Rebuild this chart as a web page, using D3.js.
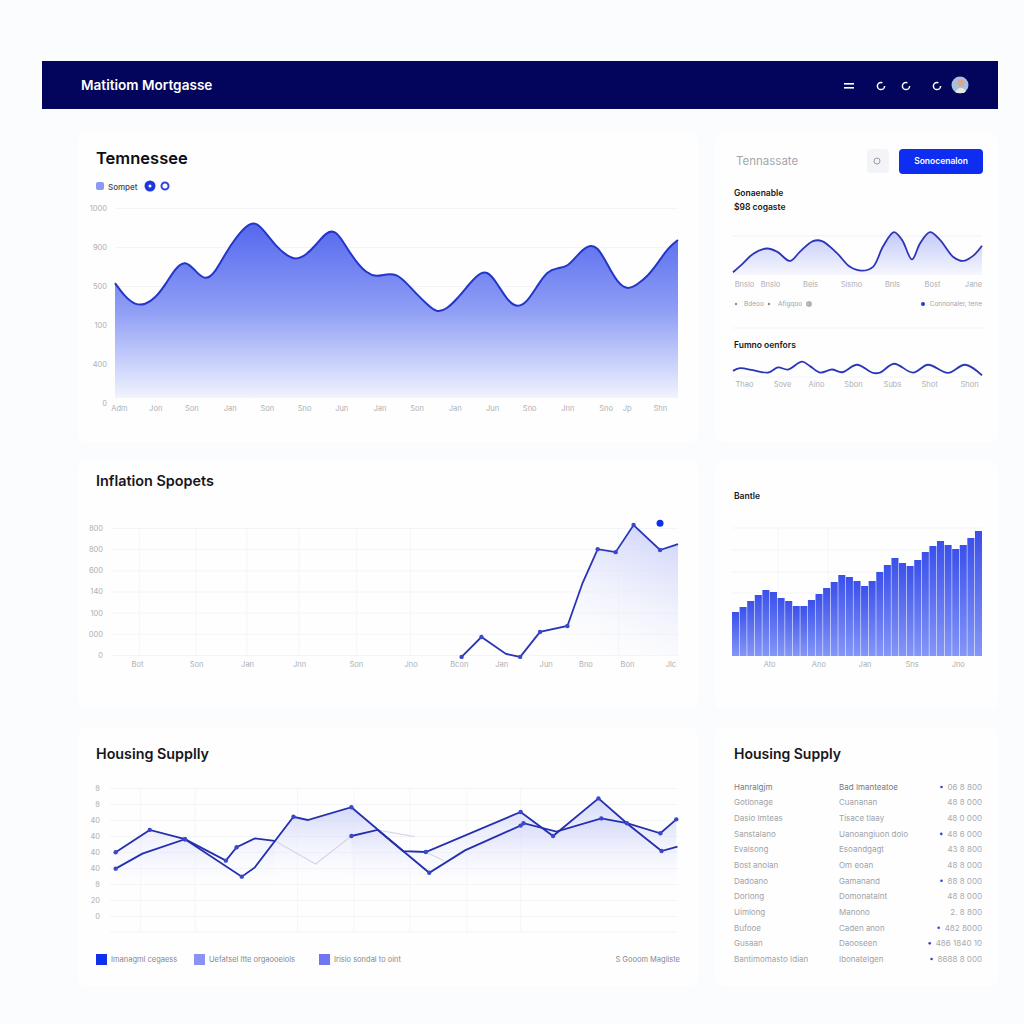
<!DOCTYPE html>
<html>
<head>
<meta charset="utf-8">
<script src="https://cdn.jsdelivr.net/npm/d3@7"></script>
<style>
  html, body { margin: 0; padding: 0; background: #fbfcfd; }
  svg { display: block; font-family: Inter, "Liberation Sans", sans-serif; }
</style>
</head>
<body>
<svg id="page" width="1024" height="1024"></svg>
<script>
// main area chart
const trendValues = [615,544,503,503,538,605,692,733,677,626,672,769,846,908,933,872,805,759,733,759,810,877,887,800,723,667,646,662,662,615,559,508,462,482,533,595,656,682,615,528,487,518,600,677,692,697,759,810,805,708,615,579,610,651,718,795,836];
const trendYTicks = [0,200,400,600,800,1000];
const trendYLabels = ["0","400","100","500","900","1000"];
const trendXTicks = [0.4,4,7.6,11.4,15.1,18.8,22.5,26.3,30,33.8,37.5,41.2,45,48.8,50.9,54.2];
const trendXLabels = ["Adm","Jon","Son","Jan","Son","Sno","Jun","Jan","Son","Jan","Jun","Sno","Jnn","Sno","Jp","Shn"];

// side sparklines
const spark1X = [0,10,20,34,44,57,67,80,89,104,117,129,140,150,161,169,179,187,197,207,220,230,240,249];
const spark1Y = [7,30,54,68,60,36,60,87,87,56,21,11,21,73,110,90,40,81,110,90,47,36,49,75];
const spark1Ticks = [11,37,77,118,159,199,240];
const spark1Labels = ["Bnslo","Bnslo","Beis","Sismo","Bnls","Bost","Jane"];

const spark2X = [0,7,20,35,45,55,69,77,87,99,109,124,140,147,161,180,195,215,232,249];
const spark2Y = [36,52,40,26,56,44,90,64,26,44,28,72,24,26,78,26,72,24,72,10];
const spark2Ticks = [11,49,83,120,159,196,236];
const spark2Labels = ["Thao","Sove","Aino","Sbon","Subs","Shot","Shon"];

// inflation line
const inflationX = [37.1,39.2,41.8,43.3,45.4,48.3,49.9,51.5,53.4,55.3,58.1,60];
const inflationY = [-9,85,5,-9,109,137,340,500,486,614,496,524];
const inflationMarked = [1,1,0,1,1,1,0,1,1,1,1,0];
const inflationExtra = [58.1,623];
const inflationYTicks = [0,100,200,300,400,500,600];
const inflationYLabels = ["0","000","100","140","600","800","800"];
const inflationXTicks = [2.75,9,14.4,19.9,25.9,31.7,36.8,41.3,46,50.2,54.6,59.2];
const inflationXLabels = ["Bot","Son","Jan","Jnn","Son","Jno","Bcon","Jan","Jun","Bno","Bon","Jlc"];
const inflationVGrid = [3,9,14.4,19.9,26,31.7,53.7];

// bars
const barValues = [44,49,55,61,66,64,58,55,50,50,56,62,68,74,81,79,75,70,75,84,91,98,93,90,96,104,110,115,111,107,111,118,125];
const barTicks = [4.9,11.4,17.5,23.7,29.8];
const barLabels = ["Ato","Ano","Jan","Sns","Jno"];

// housing supply lines
const supplyAX = [1,7,13.2,20.4,22.3,25.5,29,36.2,42.5,47.1,51.6,55.6,72.3,78,86,91.3,97.1,99.9];
const supplyAY = [39.8,53.8,48,34.6,43,48.5,47,null,50,53.8,40.6,40,65,50,73.5,57,40.6,43.3];
const supplyAMarked = [1,1,1,1,1,0,0,0,1,0,0,1,1,1,1,0,1,0];
const supplyBX = [1,5.7,13.2,23.2,25.5,32.3,34.8,42.5,51.6,56.2,62.5,72.3,72.8,78.6,86.5,91,96.9,99.7];
const supplyBY = [29.6,39,48,24.6,30.4,62,60,68,40.6,27,41,56.5,58,52.7,61,58,51.7,60.4];
const supplyBMarked = [1,0,1,1,0,1,0,1,0,1,0,1,1,0,1,1,1,1];
const supplyFaintX = [29,36.2,42.5,45,47.1,53.6,54.5,55.6,58.8];
const supplyFaintY = [47,32.5,50,null,53.8,49.6,null,40,34.6];
const supplyYTicks = [0,10,20,30,40,50,60,70,80];
const supplyYLabels = ["0","20","8","40","40","40","40","8","8"];
const supplyVGrid = [5.4,15,33,43,52.8,62.8,72.3];
const supplyLegend = ["Imanagml cegaess","Uefatsel ltte orgaooeiols","Irisio sondal to oint"];
const supplyLegendColors = ["#1030f0","#8c92f2","#7076f2"];

// table
const tableCol1 = ["Hanralgjm","Gotlonage","Dasio Imteas","Sanstalano","Evalsong","Bost anolan","Dadoano","Dorlong","Uimlong","Bufooe","Gusaan","Bantimomasto Idian"];
const tableCol2 = ["Bad Imanteatoe","Cuananan","Tisace tlaay","Uanoangiuon dolo","Esoandgagt","Om eoan","Gamanand","Domonatalnt","Manono","Caden anon","Daooseen","Ibonatelgen"];
const tableCol3 = ["06 8 800","48 8 000","48 0 000","48 6 000","43 8 800","48 8 000","88 8 000","48 8 000","2. 8 800","482 8000","486 1840 10","8688 8 000"];
const tableFlag = [1,0,0,1,0,0,1,0,0,1,1,1];

const svg = d3.select("#page");
const defs = svg.append("defs");

function gradient(id, stops, x1, y1, x2, y2) {
  const g = defs.append("linearGradient").attr("id", id)
    .attr("x1", x1 || 0).attr("y1", y1 || 0).attr("x2", x2 || 0).attr("y2", y2 === undefined ? 1 : y2);
  stops.forEach(s => g.append("stop").attr("offset", s[0]).attr("stop-color", s[1]).attr("stop-opacity", s[2] === undefined ? 1 : s[2]));
}
gradient("trendFill", [[0,"#5468ee"],[0.5,"#8f9ef5"],[1,"#f1f3fe"]]);
gradient("sparkFill", [[0,"#c2c9f8"],[1,"#f6f7fe"]]);
gradient("inflationFill", [[0,"#c9cff8"],[1,"#ffffff",0]], 1, 0, 0.35, 1);
gradient("barFill", [[0,"#3a50ea"],[1,"#8496f7"]]);
gradient("supplyFill", [[0,"#c6ccf8",0.75],[1,"#ffffff",0]]);

// background + cards
svg.append("rect").attr("width", 1024).attr("height", 1024).attr("fill", "#fbfcfd");
svg.append("rect").attr("x", 42).attr("y", 61).attr("width", 956).attr("height", 48).attr("fill", "#03045c");

const cards = [[78,133,620,309],[715,133,283,309],[78,461,620,248],[715,461,283,248],[78,728,620,258],[715,728,283,258]];
svg.selectAll(".card").data(cards).enter().append("rect")
  .attr("class", "card")
  .attr("x", d => d[0]).attr("y", d => d[1]).attr("width", d => d[2]).attr("height", d => d[3])
  .attr("rx", 7).attr("fill", "#fefefe");

function label(x, y, str, size, color, weight, anchor) {
  return svg.append("text").attr("x", x).attr("y", y).attr("dy", "0.35em")
    .attr("font-size", size).attr("fill", color).attr("font-weight", weight || 400)
    .attr("text-anchor", anchor || "start").text(str);
}

function yAxis(scale, ticks, labels, x0, x1, pad, noGridAt) {
  const g = svg.append("g").attr("transform", `translate(${x0},0)`)
    .call(d3.axisLeft(scale).tickValues(ticks).tickFormat((d, i) => labels[i]).tickSize(-(x1 - x0)).tickPadding(pad));
  g.select(".domain").remove();
  g.selectAll("line").attr("stroke", "#f3f4f6").attr("stroke-width", 1);
  g.selectAll(".tick").filter(d => d === noGridAt).select("line").remove();
  g.selectAll("text").attr("fill", "#adafb4").attr("font-size", 7.5).attr("font-family", "Inter, sans-serif");
  return g;
}

function xLabels(scale, ticks, labels, y) {
  const g = svg.append("g").attr("transform", `translate(0,${y})`)
    .call(d3.axisBottom(scale).tickValues(ticks).tickFormat((d, i) => labels[i]).tickSize(0).tickPadding(0));
  g.select(".domain").remove();
  g.selectAll("text").attr("fill", "#adafb4").attr("font-size", 7.5).attr("font-family", "Inter, sans-serif");
  return g;
}

function vGrid(scale, ticks, y0, y1) {
  svg.append("g").selectAll("line").data(ticks).enter().append("line")
    .attr("x1", d => scale(d)).attr("x2", d => scale(d)).attr("y1", y0).attr("y2", y1)
    .attr("stroke", "#f5f6f8");
}

// header
label(81, 85, "Matitiom Mortgasse", 13.6, "#ffffff", 600);
svg.append("rect").attr("x", 844).attr("y", 83).attr("width", 10).attr("height", 1.6).attr("fill", "#fff");
svg.append("rect").attr("x", 844).attr("y", 87).attr("width", 10).attr("height", 1.6).attr("fill", "#fff");
svg.selectAll(".hicon").data([881,906,937]).enter().append("circle").attr("class", "hicon")
  .attr("cx", d => d).attr("cy", 86).attr("r", 3.6).attr("fill", "none").attr("stroke", "#fff")
  .attr("stroke-width", 1.5).attr("stroke-dasharray", "18 5");
svg.append("circle").attr("cx", 960).attr("cy", 85).attr("r", 8.5).attr("fill", "#a9bfdc");
svg.append("circle").attr("cx", 961).attr("cy", 83).attr("r", 3.4).attr("fill", "#d8a890");
svg.append("path").attr("d", "M955 92 Q961 84 966 91 L964 93 L957 93 Z").attr("fill", "#e8e4e4");

// Tennessee main chart
label(96, 158, "Temnessee", 16.5, "#0c0c12", 600);
svg.append("rect").attr("x", 96).attr("y", 182).attr("width", 8).attr("height", 8).attr("rx", 2).attr("fill", "#8a9af5");
label(108, 187, "Sompet", 8, "#444650", 500);
svg.append("circle").attr("cx", 150).attr("cy", 186).attr("r", 5.5).attr("fill", "#1c36e0");
svg.append("circle").attr("cx", 150).attr("cy", 186).attr("r", 1.5).attr("fill", "#fff");
svg.append("circle").attr("cx", 165).attr("cy", 186).attr("r", 3.5).attr("fill", "#fff").attr("stroke", "#3146d8").attr("stroke-width", 2);

const trendX = d3.scaleLinear().domain([0, trendValues.length - 1]).range([115, 678]);
const trendY = d3.scaleLinear().domain([0, 1000]).range([403, 208]);
yAxis(trendY, trendYTicks, trendYLabels, 115, 678, 8, 0);
svg.append("path").datum(trendValues)
  .attr("fill", "url(#trendFill)")
  .attr("d", d3.area().x((d, i) => trendX(i)).y0(398).y1(d => trendY(d)).curve(d3.curveBasis));
svg.append("path").datum(trendValues)
  .attr("fill", "none").attr("stroke", "#2336c9").attr("stroke-width", 2)
  .attr("d", d3.line().x((d, i) => trendX(i)).y(d => trendY(d)).curve(d3.curveBasis));
xLabels(trendX, trendXTicks, trendXLabels, 406);

// right column top card
label(736, 161, "Tennassate", 11.5, "#a5a7ac");
svg.append("rect").attr("x", 867).attr("y", 149).attr("width", 22).attr("height", 24).attr("rx", 4).attr("fill", "#f3f4f7");
svg.append("circle").attr("cx", 877).attr("cy", 161).attr("r", 3).attr("fill", "none").attr("stroke", "#9a9ca3");
svg.append("rect").attr("x", 899).attr("y", 149).attr("width", 84).attr("height", 25).attr("rx", 4).attr("fill", "#0f2df0");
label(941, 161, "Sonocenalon", 8.5, "#ffffff", 600, "middle");
label(734, 193, "Gonaenable", 8.5, "#18181e", 600);
label(734, 207, "$98 cogaste", 8.5, "#18181e", 600);

function spark(xs, ys, yScale, baseY, fill) {
  const x = d3.scaleLinear().domain([0, 249]).range([733, 982]);
  const pts = xs.map((d, i) => [d, ys[i]]);
  if (fill) {
    svg.append("path").datum(pts).attr("fill", "url(#sparkFill)")
      .attr("d", d3.area().x(d => x(d[0])).y0(baseY).y1(d => yScale(d[1])).curve(d3.curveCatmullRom));
  }
  svg.append("path").datum(pts).attr("fill", "none").attr("stroke", "#2b35b8").attr("stroke-width", 1.8)
    .attr("d", d3.line().x(d => x(d[0])).y(d => yScale(d[1])).curve(d3.curveCatmullRom));
  return x;
}

const spark1Scale = d3.scaleLinear().domain([0, 100]).range([275, 236]);
svg.append("line").attr("x1", 733).attr("x2", 982).attr("y1", spark1Scale(100)).attr("y2", spark1Scale(100)).attr("stroke", "#f0f1f4");
const spark1x = spark(spark1X, spark1Y, spark1Scale, 275, true);
xLabels(spark1x, spark1Ticks, spark1Labels, 282);

svg.append("circle").attr("cx", 736).attr("cy", 304).attr("r", 1.2).attr("fill", "#8a8c94");
label(744, 304, "Bdeoo", 6.5, "#a3a5aa");
svg.append("circle").attr("cx", 769).attr("cy", 304).attr("r", 1.2).attr("fill", "#8a8c94");
label(778, 304, "Afigqoo", 6.5, "#a3a5aa");
svg.append("circle").attr("cx", 809).attr("cy", 304).attr("r", 3).attr("fill", "#b4b5b9");
svg.append("circle").attr("cx", 923).attr("cy", 304).attr("r", 2).attr("fill", "#2438d0");
label(982, 304, "Connonaler, tene", 6.5, "#a3a5aa", 400, "end");

svg.append("line").attr("x1", 733).attr("x2", 982).attr("y1", 328).attr("y2", 328).attr("stroke", "#f1f2f5");
label(734, 345, "Fumno oenfors", 8.5, "#18181e", 600);

const spark2Scale = d3.scaleLinear().domain([0, 100]).range([377, 360]);
svg.append("line").attr("x1", 733).attr("x2", 982).attr("y1", 377).attr("y2", 377).attr("stroke", "#f3f4f7");
const spark2x = spark(spark2X, spark2Y, spark2Scale, 377, false);
xLabels(spark2x, spark2Ticks, spark2Labels, 382);

// Inflation chart
label(96, 481, "Inflation Spopets", 14.4, "#16161c", 600);
const infX = d3.scaleLinear().domain([0, 60]).range([111, 678]);
const infY = d3.scaleLinear().domain([0, 600]).range([655, 528]);
vGrid(infX, inflationVGrid, 528, 655);
yAxis(infY, inflationYTicks, inflationYLabels, 111, 678, 8);
const infPts = inflationX.map((d, i) => [d, inflationY[i], inflationMarked[i]]);
svg.append("path").datum(infPts.slice(0))
  .attr("fill", "url(#inflationFill)")
  .attr("d", d3.area().x(d => infX(d[0])).y0(infY(0)).y1(d => infY(d[1])));
svg.append("path").datum(infPts).attr("fill", "none").attr("stroke", "#2a35b5").attr("stroke-width", 1.8)
  .attr("d", d3.line().x(d => infX(d[0])).y(d => infY(d[1])));
svg.append("g").selectAll("circle").data(infPts.filter(d => d[2])).enter().append("circle")
  .attr("cx", d => infX(d[0])).attr("cy", d => infY(d[1])).attr("r", 2.2).attr("fill", "#3b48cc");
svg.append("circle").attr("cx", infX(inflationExtra[0])).attr("cy", infY(inflationExtra[1])).attr("r", 3.5).attr("fill", "#1030ee");
xLabels(infX, inflationXTicks, inflationXLabels, 662);

// Bars
label(734, 496, "Bantle", 8.5, "#18181e", 600);
const barX = d3.scaleBand().domain(d3.range(barValues.length)).range([732, 982]).paddingInner(0.07);
const barY = d3.scaleLinear().domain([0, 125]).range([656, 531]);
const barPos = d3.scaleLinear().domain([0, barValues.length]).range([732, 982]);
svg.append("g").selectAll("line").data([528,550,572,593]).enter().append("line")
  .attr("x1", 732).attr("x2", 982).attr("y1", d => d).attr("y2", d => d).attr("stroke", "#f3f4f6");
vGrid(barPos, [6.1,12.7], 528, 656);
svg.append("g").selectAll("rect").data(barValues).enter().append("rect")
  .attr("x", (d, i) => barX(i)).attr("width", barX.bandwidth())
  .attr("y", d => barY(d)).attr("height", d => barY(0) - barY(d))
  .attr("fill", "url(#barFill)");
xLabels(barPos, barTicks, barLabels, 662);

// Housing supply lines
label(96, 754, "Housing Supplly", 14.3, "#16161c", 600);
const supX = d3.scaleLinear().domain([0, 100]).range([110, 678]);
const supY = d3.scaleLinear().domain([0, 80]).range([916, 788]);
vGrid(supX, supplyVGrid, 788, 932);
yAxis(supY, supplyYTicks, supplyYLabels, 110, 678, 10);
svg.append("line").attr("x1", 110).attr("x2", 678).attr("y1", 932).attr("y2", 932).attr("stroke", "#f3f4f6");

function zipPts(xs, ys, marks) { return xs.map((d, i) => [d, ys[i], marks ? marks[i] : 0]); }
const supA = zipPts(supplyAX, supplyAY, supplyAMarked);
const supB = zipPts(supplyBX, supplyBY, supplyBMarked);
const supF = zipPts(supplyFaintX, supplyFaintY);
const supArea = d3.area().defined(d => d[1] !== null).x(d => supX(d[0])).y0(supY(15)).y1(d => supY(d[1]));
const supLine = d3.line().defined(d => d[1] !== null).x(d => supX(d[0])).y(d => supY(d[1]));
[supA, supB].forEach(s => {
  svg.append("path").datum(s).attr("fill", "url(#supplyFill)").attr("d", supArea);
});
svg.append("path").datum(supF).attr("fill", "none").attr("stroke", "#d4d5ea").attr("stroke-width", 1.1).attr("d", supLine);
[supA, supB].forEach(s => {
  svg.append("path").datum(s).attr("fill", "none").attr("stroke", "#242fae").attr("stroke-width", 1.8).attr("d", supLine);
  svg.append("g").selectAll("circle").data(s.filter(d => d[2])).enter().append("circle")
    .attr("cx", d => supX(d[0])).attr("cy", d => supY(d[1])).attr("r", 2.2).attr("fill", "#3b48cc");
});

const legendX = d3.scaleOrdinal().domain([0,1,2]).range([96, 194, 319]);
supplyLegend.forEach((t, i) => {
  svg.append("rect").attr("x", legendX(i)).attr("y", 954).attr("width", 11).attr("height", 11).attr("fill", supplyLegendColors[i]);
  label(legendX(i) + 15, 959.5, t, 7.5, "#85878e");
});
label(680, 959.5, "S Gooom  Magliste", 7.5, "#85878e", 400, "end");

// Housing supply table
label(734, 754, "Housing Supply", 14, "#16161c", 600);
const rowY = d3.scalePoint().domain(d3.range(tableCol1.length)).range([787, 959]);
tableCol1.forEach((t, i) => {
  const c = i === 0 ? "#777980" : "#a0a2a8";
  label(734, rowY(i), t, 8, c);
  label(839, rowY(i), tableCol2[i], 8, c);
  const v = label(982, rowY(i), tableCol3[i], 8, "#a8aaaf", 400, "end");
  if (tableFlag[i]) {
    const box = v.node().getBBox();
    svg.append("circle").attr("cx", box.x - 6).attr("cy", rowY(i)).attr("r", 1.3).attr("fill", "#3346c8");
  }
});
</script>
</body>
</html>
